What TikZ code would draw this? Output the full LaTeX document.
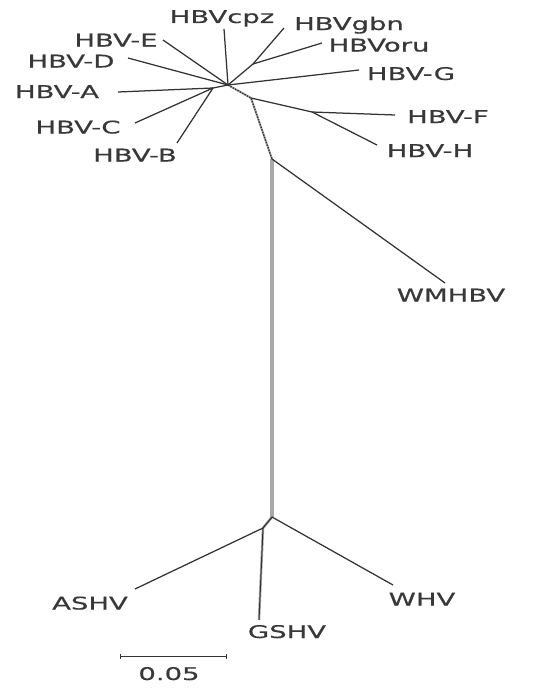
\documentclass[tikz,border=0pt]{standalone}
\usepackage{fontspec}
\setmainfont[UprightFeatures={FakeBold=0.4}]{DejaVu Sans}
\definecolor{linec}{HTML}{333333}
\definecolor{textc}{HTML}{383838}
\definecolor{grayc}{HTML}{A8A8A8}
\newcommand\stretchlab[1]{\scalebox{1.57}[1]{#1}}
\tikzset{
  branch/.style={draw=linec, line width=1.25pt},
  thickgray/.style={draw=grayc, line width=3.2pt},
  dashdark/.style={draw=linec, line width=1.3pt, dash pattern=on 1.5pt off 1.2pt},
  lab/.style={text=textc, font=\fontsize{17.5}{20}\selectfont, inner sep=0pt, anchor=base},
}
\begin{document}
\begin{tikzpicture}[x=1pt,y=-1pt]
\useasboundingbox (0,0) rectangle (551,688);
% internal nodes
\coordinate (hub) at (228,85);
\coordinate (abc) at (213,88);
\coordinate (gbo) at (253,64);
\coordinate (n2) at (251,98);
\coordinate (fh) at (312,112);
\coordinate (n3) at (272,159);
\coordinate (n4) at (272,517);
\coordinate (n5) at (263,528);
% leaf ends
\coordinate (cpz) at (224,29);
\coordinate (gbn) at (284,28);
\coordinate (oru) at (322,43);
\coordinate (G) at (359,70);
\coordinate (F) at (395,115);
\coordinate (H) at (377,145);
\coordinate (E) at (163,40);
\coordinate (D) at (128,58);
\coordinate (A) at (118,92);
\coordinate (C) at (135,123);
\coordinate (B) at (177,143);
\coordinate (WM) at (445,283);
\coordinate (AS) at (135,589);
\coordinate (GS) at (259,620);
\coordinate (WH) at (393,585);
% gray backbone
\draw[thickgray] (n3) -- (n4);
\draw[thickgray, line width=2pt] (hub) -- (n2) -- (n3);
\draw[thickgray, line width=2.5pt] (n4) -- (n5) -- (GS);
\draw[dashdark] (hub) -- (n2) -- (n3);
% branches
\draw[branch] (hub) -- (cpz);
\draw[branch] (hub) -- (gbo) -- (gbn);
\draw[branch] (gbo) -- (oru);
\draw[branch] (hub) -- (G);
\draw[branch] (n2) -- (fh) -- (F);
\draw[branch] (fh) -- (H);
\draw[branch] (hub) -- (E);
\draw[branch] (hub) -- (D);
\draw[branch] (hub) -- (abc) -- (A);
\draw[branch] (abc) -- (C);
\draw[branch] (abc) -- (B);
\draw[branch] (n3) -- (WM);
\draw[branch] (n4) -- (WH);
\draw[branch] (n4) -- (n5) -- (AS);
\draw[branch, line width=1pt] (n5) -- (GS);
% labels
\node[lab] (lcpz) at (222,23) {\stretchlab{HBVcpz}};
\node[lab] (lgbn) at (349,30) {\stretchlab{HBVgbn}};
\node[lab] (loru) at (379,51.5) {\stretchlab{HBVoru}};
\node[lab] (lG) at (411,80) {\stretchlab{HBV-G}};
\node[lab] (lF) at (448,123) {\stretchlab{HBV-F}};
\node[lab] (lH) at (430,157) {\stretchlab{HBV-H}};
\node[lab] (lE) at (116,46.5) {\stretchlab{HBV-E}};
\node[lab] (lD) at (71,67.5) {\stretchlab{HBV-D}};
\node[lab] (lA) at (57,98) {\stretchlab{HBV-A}};
\node[lab] (lC) at (78,133.5) {\stretchlab{HBV-C}};
\node[lab] (lB) at (135,161.5) {\stretchlab{HBV-B}};
\node[lab] (lWM) at (451,301.5) {\stretchlab{WMHBV}};
\node[lab] (lAS) at (90,609.5) {\stretchlab{ASHV}};
\node[lab] (lGS) at (287,638) {\stretchlab{GSHV}};
\node[lab] (lWH) at (422,605.5) {\stretchlab{WHV}};
% scale bar
\coordinate (sb1) at (120,656);
\coordinate (sb2) at (226,656);
\draw[branch, line width=1pt] (sb1) -- (sb2);
\draw[branch, line width=1pt] ([yshift=-2.5pt]sb1) -- ([yshift=2.5pt]sb1);
\draw[branch, line width=1pt] ([yshift=-2.5pt]sb2) -- ([yshift=2.5pt]sb2);
\node[lab] (lsb) at (169,680) {\stretchlab{0.05}};
\end{tikzpicture}
\end{document}
